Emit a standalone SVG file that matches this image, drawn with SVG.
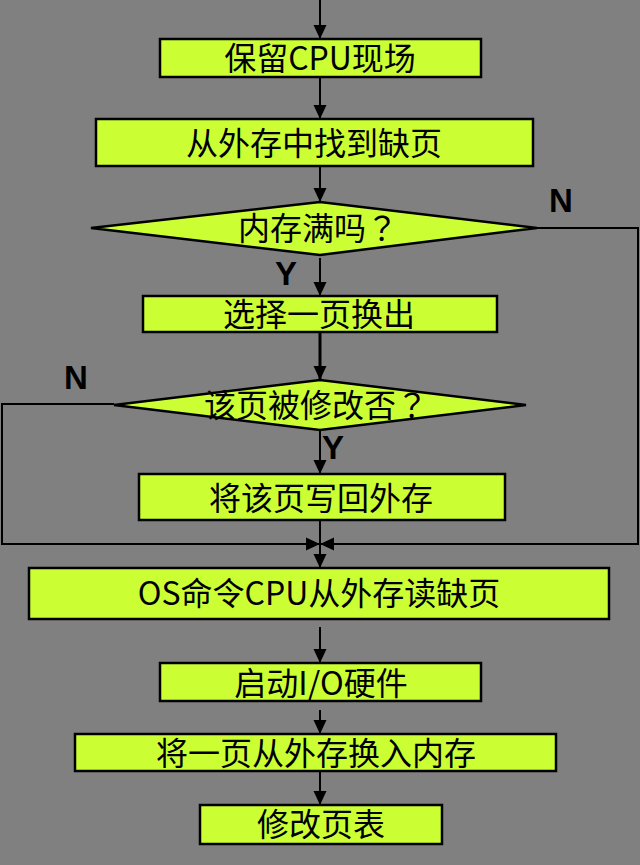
<svg xmlns="http://www.w3.org/2000/svg" width="640" height="865" viewBox="0 0 640 865">
<style>
.box{fill:#CCFF33;stroke:#000;stroke-width:2.5}
.t{font-family:"Noto Sans CJK SC","Noto Sans",sans-serif;font-size:32px;text-anchor:middle;fill:#000}
.q{font-family:"Noto Sans CJK TC","Noto Sans CJK SC",sans-serif}
.lbl{font-family:"Liberation Sans",Arial,sans-serif;font-size:33px;font-weight:bold;text-anchor:middle;fill:#000}
.c{fill:none;stroke:#000;stroke-width:2}
</style>
<defs>
<marker id="ah" markerUnits="userSpaceOnUse" markerWidth="14" markerHeight="14" viewBox="0 0 14 14" refX="14" refY="7" orient="auto">
<path d="M0,0.5 L14,7 L0,13.5 z" fill="#000"/>
</marker>
</defs>
<rect width="640" height="865" fill="#808080"/>
<g id="connectors">
<path class="c" d="M320,0 V39" marker-end="url(#ah)"/>
<path class="c" d="M320,77 V119" marker-end="url(#ah)"/>
<path class="c" d="M320,166 V202" marker-end="url(#ah)"/>
<path class="c" d="M320,258 V296" marker-end="url(#ah)"/>
<path class="c" d="M320,332 V380" style="stroke-width:3" marker-end="url(#ah)"/>
<path class="c" d="M320,430 V474" marker-end="url(#ah)"/>
<path class="c" d="M320,520 V568" marker-end="url(#ah)"/>
<path class="c" d="M537,228 H638 V544 H320" marker-end="url(#ah)"/>
<path class="c" d="M114,404 H2 V544 H320" marker-end="url(#ah)"/>
<path class="c" d="M320,627 V663" marker-end="url(#ah)"/>
<path class="c" d="M320,710 V734" marker-end="url(#ah)"/>
<path class="c" d="M320,763 V805" marker-end="url(#ah)"/>
</g>
<g id="n1"><rect class="box" x="160" y="39" width="321" height="38"/><text class="t" x="320" y="70">保留CPU现场</text></g>
<g id="n2"><rect class="box" x="96" y="119" width="437" height="47"/><text class="t" x="314" y="155">从外存中找到缺页</text></g>
<g id="n3"><polygon class="box" points="91,228 320,202 537,228 320,255"/><text class="t" x="318" y="240">内存满吗<tspan class="q">？</tspan></text></g>
<g id="n4"><rect class="box" x="143" y="296" width="354" height="36"/><text class="t" x="319" y="326">选择一页换出</text></g>
<g id="n5"><polygon class="box" points="114,405 320,380 526,405 320,430"/><text class="t" x="316" y="417">该页被修改否<tspan class="q">？</tspan></text></g>
<g id="n6"><rect class="box" x="139" y="474" width="366" height="46"/><text class="t" x="321" y="510">将该页写回外存</text></g>
<g id="n7"><rect class="box" x="29" y="568" width="580" height="51"/><text class="t" x="319" y="605">OS命令CPU从外存读缺页</text></g>
<g id="n8"><rect class="box" x="160" y="663" width="321" height="38"/><text class="t" x="321" y="695">启动I/O硬件</text></g>
<g id="n9"><rect class="box" x="75" y="734" width="481" height="37"/><text class="t" x="316" y="765">将一页从外存换入内存</text></g>
<g id="n10"><rect class="box" x="200" y="805" width="242" height="39"/><text class="t" x="321" y="836">修改页表</text></g>
<g id="labels">
<text class="lbl" x="561" y="212">N</text>
<text class="lbl" x="76" y="389">N</text>
<text class="lbl" x="286" y="285">Y</text>
<text class="lbl" x="333" y="459">Y</text>
</g>
</svg>
